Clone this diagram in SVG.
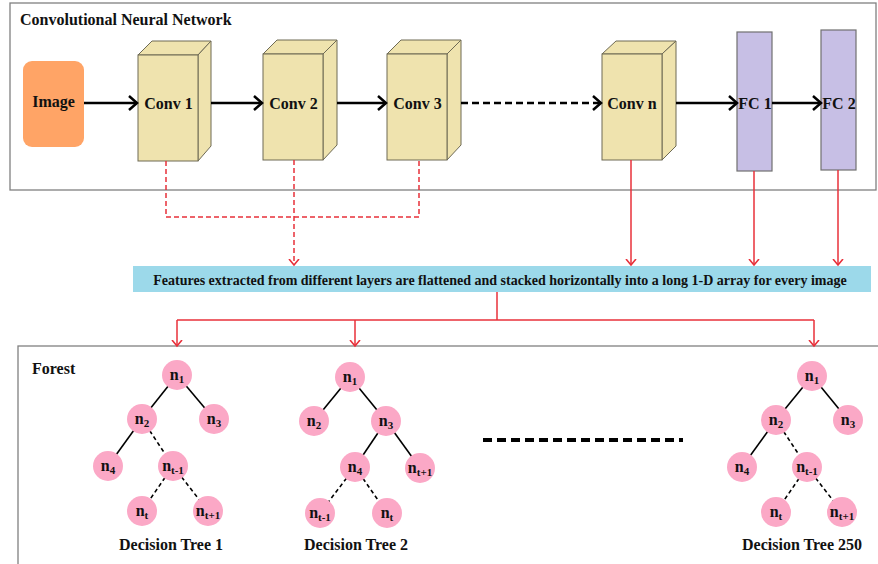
<svg xmlns="http://www.w3.org/2000/svg" width="878" height="564" viewBox="0 0 878 564">
<defs>
<marker id="ab" markerUnits="userSpaceOnUse" markerWidth="14" markerHeight="16" refX="9" refY="8" orient="auto">
<path d="M1,1 L9,8 L1,15" fill="none" stroke="#000" stroke-width="2.5"/>
</marker>
<marker id="ar" markerUnits="userSpaceOnUse" markerWidth="12" markerHeight="12" refX="6" refY="6" orient="auto">
<path d="M0,1 L6,6 L0,11" fill="none" stroke="#E8303A" stroke-width="1.6"/>
</marker>
</defs>
<style>
text{font-family:"Liberation Serif","Times New Roman",serif;font-weight:bold;fill:#111}
.lbl{font-size:16px;text-anchor:middle}
.frame{fill:#fff;stroke:#808080;stroke-width:1.3}
.cf{fill:#EFE3AE;stroke:#6e6a55;stroke-width:1}
.fc{fill:#C7BFE5;stroke:#707070;stroke-width:1.2}
.blk{stroke:#000;stroke-width:2.5;fill:none}
.red{stroke:#E8303A;stroke-width:1.5;fill:none}
.rdash{stroke-dasharray:5,3}
.nd{fill:#FBA8C6}
.ntx{font-size:16px;text-anchor:middle}
.sub{font-size:11px}
.e{stroke:#000;stroke-width:1.6}
.ed{stroke:#000;stroke-width:1.6;stroke-dasharray:4,3}
</style>

<rect class="frame" x="10" y="3" width="866" height="187"/>
<text x="20" y="25" font-size="16">Convolutional Neural Network</text>

<rect class="frame" x="18" y="346" width="870" height="230"/>
<text x="32" y="374" font-size="16">Forest</text>

<g id="image">
<rect x="23" y="61" width="61" height="86" rx="9" fill="#FFA466"/>
<text class="lbl" x="53.5" y="107">Image</text>
</g>
<g id="conv1">
<polygon class="cf" points="138,55 152,41 211,41 198,55"/>
<polygon class="cf" points="198,55 211,41 211,146 198,161"/>
<rect class="cf" x="138" y="55" width="60" height="106"/>
<text class="lbl" x="168.5" y="109">Conv 1</text>
</g>
<g id="conv2">
<polygon class="cf" points="263,54 277,40 337,40 323,54"/>
<polygon class="cf" points="323,54 337,40 337,145 323,160"/>
<rect class="cf" x="263" y="54" width="60" height="106"/>
<text class="lbl" x="293.5" y="109">Conv 2</text>
</g>
<g id="conv3">
<polygon class="cf" points="387,54 401,40 461,40 447,54"/>
<polygon class="cf" points="447,54 461,40 461,145 447,160"/>
<rect class="cf" x="387" y="54" width="60" height="106"/>
<text class="lbl" x="417.5" y="109">Conv 3</text>
</g>
<g id="convn">
<polygon class="cf" points="602,54 616,41 676,41 662,54"/>
<polygon class="cf" points="662,54 676,41 676,146 662,160"/>
<rect class="cf" x="602" y="54" width="60" height="106"/>
<text class="lbl" x="632" y="109">Conv n</text>
</g>
<g id="fc1">
<rect class="fc" x="737" y="32" width="35" height="139"/>
<text class="lbl" x="755" y="109">FC 1</text>
</g>
<g id="fc2">
<rect class="fc" x="821" y="30" width="35" height="140"/>
<text class="lbl" x="839" y="109">FC 2</text>
</g>

<g id="features">
<rect x="133" y="266" width="738" height="26" fill="#9CD9EA"/>
<text x="500" y="285" font-size="14" text-anchor="middle">Features extracted from different layers are flattened and stacked horizontally into a long 1-D array for every image</text>
</g>

<g id="connectors">
<line class="blk" x1="84" y1="103" x2="137" y2="103" marker-end="url(#ab)"/>
<line class="blk" x1="211" y1="103" x2="262" y2="103" marker-end="url(#ab)"/>
<line class="blk" x1="337" y1="103" x2="386" y2="103" marker-end="url(#ab)"/>
<line class="blk" x1="461" y1="103" x2="601" y2="103" stroke-dasharray="7,4" marker-end="url(#ab)"/>
<line class="blk" x1="676" y1="103" x2="737" y2="103" marker-end="url(#ab)"/>
<line class="blk" x1="772" y1="103" x2="821" y2="103" marker-end="url(#ab)"/>

<polyline class="red rdash" points="166,161 166,217 419,217 419,160"/>
<line class="red rdash" x1="294" y1="160" x2="294" y2="265" marker-end="url(#ar)"/>
<line class="red" x1="631" y1="160" x2="631" y2="265" marker-end="url(#ar)"/>
<line class="red" x1="754" y1="171" x2="754" y2="265" marker-end="url(#ar)"/>
<line class="red" x1="838" y1="170" x2="838" y2="265" marker-end="url(#ar)"/>

<polyline class="red" points="497,292 497,320"/>
<polyline class="red" points="177,320 814,320"/>
<line class="red" x1="177" y1="320" x2="177" y2="346" marker-end="url(#ar)"/>
<line class="red" x1="355" y1="320" x2="355" y2="346" marker-end="url(#ar)"/>
<line class="red" x1="814" y1="320" x2="814" y2="346" marker-end="url(#ar)"/>

<line x1="483" y1="440" x2="683" y2="440" stroke="#000" stroke-width="4" stroke-dasharray="9,5"/>

<!-- tree 1 edges -->
<line class="e" x1="177" y1="375" x2="142" y2="419"/>
<line class="e" x1="177" y1="375" x2="214" y2="419"/>
<line class="e" x1="142" y1="419" x2="108" y2="466"/>
<line class="ed" x1="142" y1="419" x2="173" y2="466"/>
<line class="ed" x1="173" y1="466" x2="142" y2="511"/>
<line class="ed" x1="173" y1="466" x2="208" y2="511"/>
<!-- tree 2 edges -->
<line class="e" x1="350" y1="377" x2="314" y2="421"/>
<line class="e" x1="350" y1="377" x2="386" y2="421"/>
<line class="e" x1="386" y1="421" x2="355" y2="467"/>
<line class="e" x1="386" y1="421" x2="420" y2="468"/>
<line class="ed" x1="355" y1="467" x2="320" y2="513"/>
<line class="ed" x1="355" y1="467" x2="387" y2="513"/>
<!-- tree 250 edges -->
<line class="e" x1="812" y1="376" x2="776" y2="420"/>
<line class="e" x1="812" y1="376" x2="848" y2="420"/>
<line class="e" x1="776" y1="420" x2="742" y2="467"/>
<line class="ed" x1="776" y1="420" x2="807" y2="467"/>
<line class="ed" x1="807" y1="467" x2="776" y2="512"/>
<line class="ed" x1="807" y1="467" x2="842" y2="512"/>
</g>

<g id="tree1">
<g id="t1n1"><circle class="nd" cx="177" cy="375" r="15"/><text class="ntx" x="177" y="380">n<tspan class="sub" dy="3">1</tspan></text></g>
<g id="t1n2"><circle class="nd" cx="142" cy="419" r="15"/><text class="ntx" x="142" y="424">n<tspan class="sub" dy="3">2</tspan></text></g>
<g id="t1n3"><circle class="nd" cx="214" cy="419" r="15"/><text class="ntx" x="214" y="424">n<tspan class="sub" dy="3">3</tspan></text></g>
<g id="t1n4"><circle class="nd" cx="108" cy="466" r="15"/><text class="ntx" x="108" y="471">n<tspan class="sub" dy="3">4</tspan></text></g>
<g id="t1nt-1"><circle class="nd" cx="173" cy="466" r="15"/><text class="ntx" x="173" y="471">n<tspan class="sub" dy="3">t-1</tspan></text></g>
<g id="t1nt"><circle class="nd" cx="142" cy="511" r="15"/><text class="ntx" x="142" y="516">n<tspan class="sub" dy="3">t</tspan></text></g>
<g id="t1nt+1"><circle class="nd" cx="208" cy="511" r="15"/><text class="ntx" x="208" y="516">n<tspan class="sub" dy="3">t+1</tspan></text></g>
<text class="lbl" x="171" y="550">Decision Tree 1</text>
</g>

<g id="tree2">
<g id="t2n1"><circle class="nd" cx="350" cy="377" r="15"/><text class="ntx" x="350" y="382">n<tspan class="sub" dy="3">1</tspan></text></g>
<g id="t2n2"><circle class="nd" cx="314" cy="421" r="15"/><text class="ntx" x="314" y="426">n<tspan class="sub" dy="3">2</tspan></text></g>
<g id="t2n3"><circle class="nd" cx="386" cy="421" r="15"/><text class="ntx" x="386" y="426">n<tspan class="sub" dy="3">3</tspan></text></g>
<g id="t2n4"><circle class="nd" cx="355" cy="467" r="15"/><text class="ntx" x="355" y="472">n<tspan class="sub" dy="3">4</tspan></text></g>
<g id="t2nt+1"><circle class="nd" cx="420" cy="468" r="15"/><text class="ntx" x="420" y="473">n<tspan class="sub" dy="3">t+1</tspan></text></g>
<g id="t2nt-1"><circle class="nd" cx="320" cy="513" r="15"/><text class="ntx" x="320" y="518">n<tspan class="sub" dy="3">t-1</tspan></text></g>
<g id="t2nt"><circle class="nd" cx="387" cy="513" r="15"/><text class="ntx" x="387" y="518">n<tspan class="sub" dy="3">t</tspan></text></g>
<text class="lbl" x="356" y="550">Decision Tree 2</text>
</g>

<g id="tree250">
<g id="t3n1"><circle class="nd" cx="812" cy="376" r="15"/><text class="ntx" x="812" y="381">n<tspan class="sub" dy="3">1</tspan></text></g>
<g id="t3n2"><circle class="nd" cx="776" cy="420" r="15"/><text class="ntx" x="776" y="425">n<tspan class="sub" dy="3">2</tspan></text></g>
<g id="t3n3"><circle class="nd" cx="848" cy="420" r="15"/><text class="ntx" x="848" y="425">n<tspan class="sub" dy="3">3</tspan></text></g>
<g id="t3n4"><circle class="nd" cx="742" cy="467" r="15"/><text class="ntx" x="742" y="472">n<tspan class="sub" dy="3">4</tspan></text></g>
<g id="t3nt-1"><circle class="nd" cx="807" cy="467" r="15"/><text class="ntx" x="807" y="472">n<tspan class="sub" dy="3">t-1</tspan></text></g>
<g id="t3nt"><circle class="nd" cx="776" cy="512" r="15"/><text class="ntx" x="776" y="517">n<tspan class="sub" dy="3">t</tspan></text></g>
<g id="t3nt+1"><circle class="nd" cx="842" cy="512" r="15"/><text class="ntx" x="842" y="517">n<tspan class="sub" dy="3">t+1</tspan></text></g>
<text class="lbl" x="802" y="550">Decision Tree 250</text>
</g>
</svg>
